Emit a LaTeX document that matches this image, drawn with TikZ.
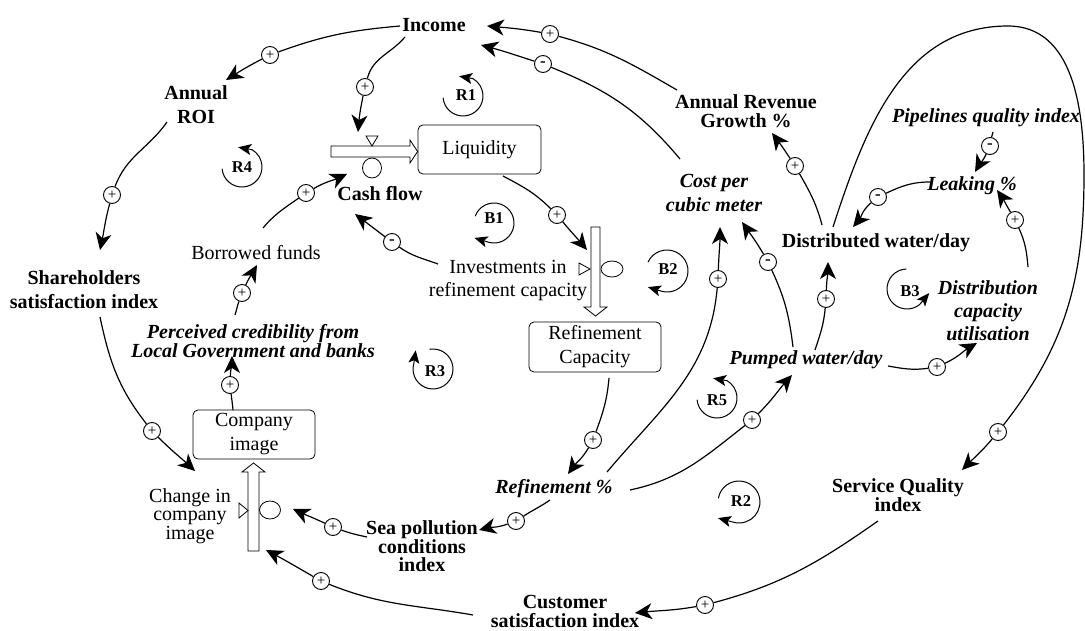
\documentclass[tikz,border=0pt]{standalone}
\usepackage{fontspec}
\setmainfont{Liberation Serif}
\usetikzlibrary{arrows.meta,shapes.geometric}
\begin{document}
\begin{tikzpicture}[x=1pt,y=-1pt,
  font=\fontsize{20}{24}\selectfont,
  lbl/.style={align=center,inner sep=2pt},
  bvar/.style={lbl,font=\fontsize{20}{#1}\selectfont\bfseries},
  bvar/.default=24,
  ivar/.style={lbl,font=\fontsize{20}{#1}\selectfont\bfseries\itshape},
  ivar/.default=24,
  rvar/.style={lbl,font=\fontsize{20}{#1}\selectfont},
  rvar/.default=24,
  stock/.style={draw,rounded corners=5pt,line width=0.8pt,align=center,inner sep=0pt},
  pol/.style={circle,draw,fill=white,line width=0.9pt,inner sep=0pt,minimum size=17pt,font=\fontsize{15}{15}\selectfont},
  neg/.style={pol,font=\fontsize{17}{17}\selectfont\bfseries},
  link/.style={line width=1.2pt},
  arr/.style={link,-{Stealth[length=17pt,width=16pt,inset=5pt]}},
  loopl/.style={font=\fontsize{16.5}{16.5}\selectfont\bfseries,inner sep=0pt},
  looparc/.style={line width=1pt,-{Stealth[length=13pt,width=11pt,inset=3pt]}},
  pipe/.style={draw,fill=white,line width=0.8pt},
  valve/.style={draw,line width=0.8pt},
]
\useasboundingbox (0,0) rectangle (1085,631);

% ---------------- variables ----------------
\node[bvar] (inc) at (434,25) {Income};
\node[bvar] (roi) at (196,105) {Annual\\ROI};
\node[bvar] (sh) at (84,290) {Shareholders\\satisfaction index};
\node[bvar] (cf) at (380,194) {Cash flow};
\node[stock,minimum width=123pt,minimum height=49pt] (liq) at (479.5,149.5) {Liquidity};
\node[rvar=23] (inv) at (508,281) {Investments in\\refinement capacity};
\node[stock,minimum width=132pt,minimum height=50pt] (rc) at (595,347) {Refinement\\Capacity};
\node[stock,minimum width=122pt,minimum height=49pt] (ci) at (254,434.5) {Company\\image};
\node[rvar=18.5] (cci) at (190,516) {Change in\\company\\image};
\node[rvar] (bf) at (256,253) {Borrowed funds};
\node[ivar=19] (pc) at (253,341) {Perceived credibility from\\Local Government and banks};
\node[bvar=18] (sp) at (422,546) {Sea pollution\\conditions\\index};
\node[ivar] (rp) at (554,489) {Refinement \%};
\node[bvar=19] (cs) at (565,611) {Customer\\satisfaction index};
\node[bvar=19] (sq) at (898,495) {Service Quality\\index};
\node[ivar] (pw) at (806,360) {Pumped water/day};
\node[ivar=23] (dcu) at (988,311) {Distribution\\capacity\\utilisation};
\node[bvar] (dw) at (876,243) {Distributed water/day};
\node[ivar] (lk) at (972,186) {Leaking \%};
\node[ivar] (pq) at (986,118) {Pipelines quality index};
\node[bvar=19] (arg) at (746,111) {Annual Revenue\\Growth \%};
\node[ivar] (cpm) at (714,193) {Cost per\\cubic meter};

% ---------------- flows (pipes and valves) ----------------
\draw[pipe] (331,146) -- (410,146) -- (410,140) -- ([shift={(0,2)}]liq.west) -- (410,163) -- (410,157) -- (331,157) -- cycle;
\draw[valve] (366,136) -- (378,136) -- (372,146) -- cycle;
\node[valve,ellipse,minimum width=19pt,minimum height=20pt,inner sep=0pt] (e1) at (372,168) {};
\coordinate (v1) at (372,141);

\draw[pipe] (591,227) -- (600,227) -- (600,307) -- (607,307) -- (595.5,316) -- (584,307) -- (591,307) -- cycle;
\draw[valve] (579,263) -- (579,275) -- (590,269) -- cycle;
\node[valve,ellipse,minimum width=22pt,minimum height=16pt,inner sep=0pt] (e2) at (612,269) {};
\coordinate (v2) at (585,269);

\draw[pipe] (248,551) -- (259,551) -- (259,472) -- (265,472) -- (253.5,463) -- (242,472) -- (248,472) -- cycle;
\draw[valve] (239,503) -- (239,518) -- (248,510.5) -- cycle;
\node[valve,ellipse,minimum width=21pt,minimum height=18pt,inner sep=0pt] (e3) at (270,510) {};
\coordinate (pipe3) at (253.5,551);

% ---------------- polarity marks ----------------
\node[pol] (p1) at (270,55) {+};
\node[pol] (p2) at (365,87) {+};
\node[pol] (p3) at (112,195) {+};
\node[pol] (p4) at (152,431) {+};
\node[pol] (p5) at (230,385) {+};
\node[pol] (p6) at (242,293) {+};
\node[pol] (p7) at (306,193) {+};
\node[neg] (p8) at (392,242) {-};
\node[pol] (p9) at (557,215) {+};
\node[pol] (p10) at (593,440) {+};
\node[pol] (p11) at (718,279) {+};
\node[pol] (p12) at (752,420) {+};
\node[pol] (p13) at (516,521) {+};
\node[pol] (p14) at (333,527) {+};
\node[pol] (p15) at (321,581) {+};
\node[pol] (p16) at (705,605) {+};
\node[pol] (p17) at (998,432) {+};
\node[pol] (p18) at (795,166) {+};
\node[pol] (p19) at (550,34) {+};
\node[neg] (p20) at (543,64) {-};
\node[neg] (p21) at (768,262) {-};
\node[pol] (p22) at (826,299) {+};
\node[pol] (p23) at (937,367) {+};
\node[pol] (p24) at (1015,220) {+};
\node[neg] (p25) at (990,146) {-};
\node[neg] (p26) at (878,197) {-};

% ---------------- causal links ----------------
\draw[link] ([shift={(-34,1)}]inc.center) to[out=185,in=20] (p1);
\draw[arr] (p1) to[out=207,in=32] ([shift={(30,-25)}]roi.center);

\draw[link] ([shift={(-29,12)}]inc.center) to[out=230,in=75] (p2);
\draw[arr] (p2) to[out=258,in=85] ([shift={(-14,-9)}]v1);

\draw[link] ([shift={(-29,17)}]roi.center) to[out=235,in=70] (p3);
\draw[arr] (p3) to[out=255,in=78] ([shift={(16,-40)}]sh.center);

\draw[link] ([shift={(16,27)}]sh.center) to[out=-78,in=128] (p4);
\draw[arr] (p4) to[out=-45,in=137] ([shift={(-59,36.5)}]ci.center);

\draw[link] ([shift={(-21,-24.5)}]ci.center) to[out=95,in=-83] (p5);
\draw[arr] (p5) to[out=88,in=-90] ([shift={(-21,15)}]pc.center);

\draw[link] ([shift={(-18,-26)}]pc.center) to[out=72,in=250] (p6);
\draw[arr] (p6) to[out=65,in=240] ([shift={(1,12)}]bf.center);

\draw[link] ([shift={(7,-25)}]bf.center) to[out=50,in=215] (p7);
\draw[arr] (p7) to[out=30,in=205] ([shift={(-33,-20)}]cf.center);

\draw[link] ([shift={(-70,-17)}]inv.center) to[out=160,in=-35] (p8);
\draw[arr] (p8) to[out=143,in=-37] ([shift={(-25,20)}]cf.center);

\draw[link] ([shift={(23.5,26.5)}]liq.center) to[out=-28,in=135] (p9);
\draw[arr] (p9) to[out=-50,in=130] ([shift={(2,-19)}]v2);

\draw[link] ([shift={(14,31)}]rc.center) to[out=-95,in=70] (p10);
\draw[arr] (p10) to[out=-120,in=54] ([shift={(14,-15)}]rp.center);

\draw[link] ([shift={(53,-17)}]rp.center) to[out=50,in=-95] (p11);
\draw[arr] (p11) to[out=88,in=-90] ([shift={(6,34)}]cpm.center);

\draw[link] ([shift={(76,1)}]rp.center) to[out=12,in=218] (p12);
\draw[arr] (p12) to[out=45,in=228] ([shift={(-14,15)}]pw.center);

\draw[link] ([shift={(-4,11)}]rp.center) to[out=215,in=33] (p13);
\draw[arr] (p13) to[out=200,in=14] ([shift={(57,-16)}]sp.center);

\draw[link] ([shift={(-55,-9)}]sp.center) to[out=168,in=-20] (p14);
\draw[arr] (p14) to[out=155,in=-25] ([shift={(23,-1)}]e3.center);

\draw[link] ([shift={(-92,4)}]cs.center) to[out=170,in=-22] (p15);
\draw[arr] (p15) to[out=150,in=-28] ([shift={(12.5,-1)}]pipe3);

\draw[link] ([shift={(-20,26)}]sq.center) to[out=215,in=15] (p16);
\draw[arr] (p16) to[out=190,in=6] ([shift={(70,2)}]cs.center);

\coordinate (bl1) at (1008,26);
\coordinate (bl2) at (1084,175);
\draw[link] ([shift={(-43,-16)}]dw.center) to[out=72,in=180] (bl1) to[out=0,in=90] (bl2) to[out=-90,in=52] (p17);
\draw[arr] (p17) to[out=230,in=45] ([shift={(64,-25)}]sq.center);

\draw[link] ([shift={(-54,-18)}]dw.center) to[out=105,in=-60] (p18);
\draw[arr] (p18) to[out=123,in=-53] ([shift={(26,22)}]arg.center);

\draw[link] ([shift={(-69,-21)}]arg.center) to[out=150,in=-15] (p19);
\draw[arr] (p19) to[out=170,in=-5] ([shift={(53,1)}]inc.center);

\draw[link] ([shift={(-34,-34)}]cpm.center) to[out=130,in=-22] (p20);
\draw[arr] (p20) to[out=162,in=-15] ([shift={(47,20)}]inc.center);

\draw[link] ([shift={(-13,-13)}]pw.center) to[out=97,in=-65] (p21);
\draw[arr] (p21) to[out=120,in=-55] ([shift={(28,29)}]cpm.center);

\draw[link] ([shift={(9,-10)}]pw.center) to[out=72,in=-95] (p22);
\draw[arr] (p22) to[out=88,in=-90] ([shift={(-48,19)}]dw.center);

\draw[link] ([shift={(82,6)}]pw.center) to[out=-10,in=188] (p23);
\draw[arr] (p23) to[out=25,in=210] ([shift={(-11,32)}]dcu.center);

\draw[link] ([shift={(40,-44)}]dcu.center) to[out=95,in=-65] (p24);
\draw[arr] (p24) to[out=120,in=-55] ([shift={(25,4)}]lk.center);

\draw[link] ([shift={(7,14)}]pq.center) to[out=-100,in=80] (p25);
\draw[arr] (p25) to[out=-115,in=60] ([shift={(3,-14)}]lk.center);

\draw[link] ([shift={(-42,-4)}]lk.center) to[out=180,in=25] (p26);
\draw[arr] (p26) to[out=220,in=50] ([shift={(-23,-16)}]dw.center);

% ---------------- loop markers ----------------
\node[loopl] (r1) at (466,95) {R1};
\draw[looparc] ([shift={(-3,1)}]r1.center) ++(185:20pt) arc[start angle=185,end angle=420,radius=20pt] -- ++(170:14pt);
\node[loopl] (r4) at (242,167) {R4};
\draw[looparc] (r4.center) ++(185:20pt) arc[start angle=185,end angle=420,radius=20pt] -- ++(170:14pt);
\node[loopl] (r5) at (717,400) {R5};
\draw[looparc] ([shift={(0,-2)}]r5.center) ++(185:20pt) arc[start angle=185,end angle=420,radius=20pt] -- ++(170:14pt);
\node[loopl] (b1) at (494,218) {B1};
\draw[looparc] ([shift={(0,5)}]b1.center) ++(160:20pt) arc[start angle=160,end angle=-105,radius=20pt] -- ++(163:15pt);
\node[loopl] (b2) at (668,269) {B2};
\draw[looparc] ([shift={(-1,2)}]b2.center) ++(155:21pt) arc[start angle=155,end angle=-103,radius=21pt] -- ++(163:15pt);
\node[loopl] (r2) at (741,501) {R2};
\draw[looparc] ([shift={(-2,1)}]r2.center) ++(170:21pt) arc[start angle=170,end angle=-108,radius=21pt] -- ++(165:15pt);
\node[loopl] (r3) at (435,371) {R3};
\draw[looparc] ([shift={(-2,-2)}]r3.center) ++(100:20pt) arc[start angle=100,end angle=-197,radius=20pt] -- ++(82:13pt);
\node[loopl] (b3) at (910,291) {B3};
\draw[looparc] ([shift={(-3,-2)}]b3.center) ++(92:20pt) arc[start angle=92,end angle=309,radius=20pt] -- ++(50:15pt);
\end{tikzpicture}
\end{document}
